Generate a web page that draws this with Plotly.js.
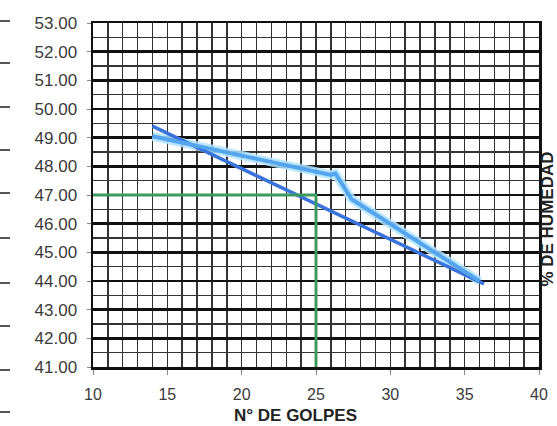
<!DOCTYPE html>
<html>
<head>
<meta charset="utf-8">
<script src="https://cdn.plot.ly/plotly-3.0.1.min.js"></script>
<style>html,body{margin:0;padding:0;background:#fff;}#chart{width:557px;height:426px;}</style>
</head>
<body>
<div id="chart"></div>
<script>
// Data
const golpes = [14, 26, 26.3, 27.4, 36];           // N° de golpes (measured curve)
const humedad = [49.05, 47.7, 47.75, 46.85, 44.0]; // % de humedad
const fitX = [14, 36.3];                           // flow line
const fitY = [49.4, 43.9];
const llX = [10, 25, 25];                          // liquid limit reading at 25 blows
const llY = [47.0, 47.0, 41];
const xTicks = [10, 15, 20, 25, 30, 35, 40];
const yTicks = [41, 42, 43, 44, 45, 46, 47, 48, 49, 50, 51, 52, 53];

const font = "Liberation Sans, Arial, sans-serif";
const PW = 557 - 93 - 18;   // plot width in px

const traces = [
  {x: golpes, y: humedad, mode: 'lines', line: {color: 'rgba(175,228,255,0.85)', width: 9}},
  {x: fitX, y: fitY, mode: 'lines', line: {color: '#3a74da', width: 3.5}},
  {x: golpes, y: humedad, mode: 'lines', line: {color: '#55a4ee', width: 4}},
  {x: llX, y: llY, mode: 'lines', line: {color: '#3c9a5c', width: 3}}
];

// decorative dashes on the left edge (from neighbouring drawing)
const dashPix = [21, 63, 107, 150, 193, 238, 283, 326, 370, 412];
const shapes = dashPix.map(p => ({
  type: 'line', xref: 'paper', yref: 'paper',
  x0: -93/PW, x1: -83/PW, y0: (367-p)/344, y1: (367-p)/344,
  line: {color: '#555', width: 2}
}));

const layout = {
  width: 557, height: 426,
  margin: {l: 93, r: 18, t: 23, b: 59},
  paper_bgcolor: '#fff', plot_bgcolor: '#fff',
  showlegend: false,
  xaxis: {
    range: [10, 40], tickvals: xTicks, ticktext: xTicks.map(String),
    showgrid: true, gridcolor: '#333', gridwidth: 1.5,
    minor: {dtick: 1, showgrid: true, gridcolor: '#333', gridwidth: 1.5},
    ticks: 'outside', ticklen: 5, tickcolor: '#888', tickwidth: 1,
    ticklabelstandoff: 6,
    showline: true, linecolor: '#111', linewidth: 2.5, mirror: true,
    zeroline: false,
    tickfont: {family: font, size: 16, color: '#3a3a3a'}
  },
  yaxis: {
    range: [41, 53], tickvals: yTicks, ticktext: yTicks.map(v => v.toFixed(2)),
    showgrid: true, gridcolor: '#111', gridwidth: 2.5,
    minor: {dtick: 0.5, showgrid: true, gridcolor: '#333', gridwidth: 1.5},
    ticks: 'outside', ticklen: 4, tickcolor: '#888', tickwidth: 1,
    ticklabelstandoff: 6,
    showline: true, linecolor: '#111', linewidth: 2.5, mirror: true,
    zeroline: false,
    tickfont: {family: font, size: 17, color: '#3a3a3a'}
  },
  shapes: shapes,
  annotations: [
    {text: '<b>N° DE GOLPES</b>', xref: 'paper', yref: 'paper', x: (295-93)/PW, y: -0.14,
     xanchor: 'center', yanchor: 'middle', showarrow: false,
     font: {family: font, size: 17, color: '#222'}},
    {text: '<b>% DE HUMEDAD</b>', xref: 'paper', yref: 'paper', x: (547.5-93)/PW, y: 0.43,
     xanchor: 'center', yanchor: 'middle', textangle: -90, showarrow: false,
     font: {family: font, size: 17, color: '#222'}}
  ]
};

Plotly.newPlot('chart', traces, layout, {displayModeBar: false, staticPlot: true});
</script>
</body>
</html>
